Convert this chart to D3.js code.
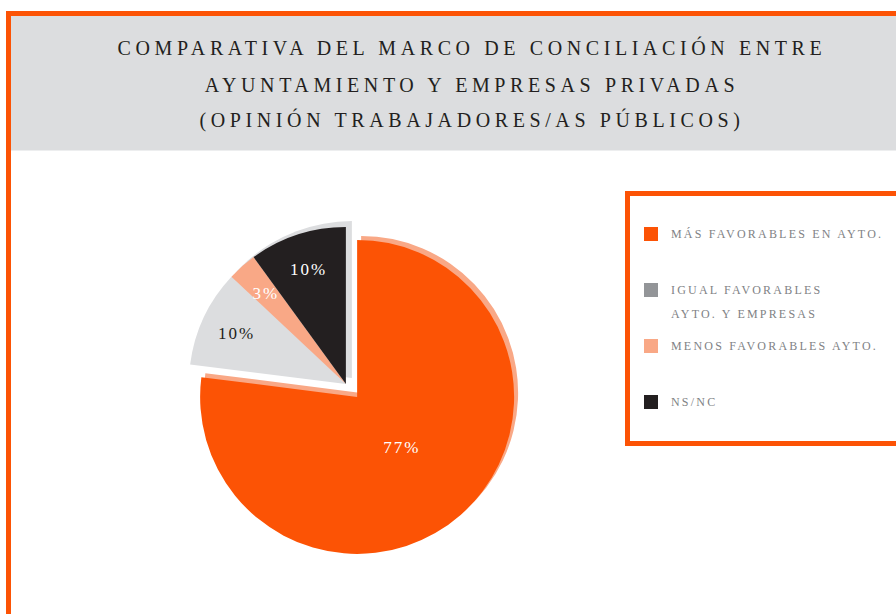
<!DOCTYPE html>
<html>
<head>
<meta charset="utf-8">
<script src="https://cdn.jsdelivr.net/npm/d3@7"></script>
<style>
  body { margin: 0; background: #fff; }
  svg { display: block; font-family: "Liberation Serif", "DejaVu Serif", serif; }
  .title { font-size: 20px; letter-spacing: 4.6px; fill: #231f20; text-anchor: middle; }
  .legendText { font-size: 12px; letter-spacing: 2.2px; fill: #808285; }
  .pct { font-size: 17px; letter-spacing: 2px; text-anchor: middle; }
</style>
</head>
<body>
<svg width="896" height="614"></svg>
<script>
// data
var categories = ["Más favorables en Ayto.", "Igual favorables Ayto. y empresas", "Menos favorables Ayto.", "NS/NC"];
var values = [77, 10, 3, 10];
var legendLines = [["MÁS FAVORABLES EN AYTO."], ["IGUAL FAVORABLES", "AYTO. Y EMPRESAS"], ["MENOS FAVORABLES AYTO."], ["NS/NC"]];
var titleLines = ["COMPARATIVA DEL MARCO DE CONCILIACIÓN ENTRE", "AYUNTAMIENTO Y EMPRESAS PRIVADAS", "(OPINIÓN TRABAJADORES/AS PÚBLICOS)"];

var orange = "#fc5305", salmon = "#f9a886", lightGrey = "#dcdddf", darkGrey = "#939598", black = "#231f20";
var sliceColor = [orange, lightGrey, salmon, black];
var swatchColor = [orange, darkGrey, salmon, black];
var labelColor = ["#fff", black, "#fff", "#fff"];

var svg = d3.select("svg"),
    width = +svg.attr("width"),
    height = +svg.attr("height");

// outer frame + title banner
svg.append("rect")
    .attr("x", 8.5).attr("y", 13.5)
    .attr("width", width + 20).attr("height", height + 20)
    .attr("fill", "#fff")
    .attr("stroke", orange).attr("stroke-width", 5);

svg.append("rect")
    .attr("x", 11).attr("y", 16)
    .attr("width", width).attr("height", 134.5)
    .attr("fill", lightGrey);

svg.selectAll(".title")
    .data(titleLines)
    .enter().append("text")
    .attr("class", "title")
    .attr("x", 472)
    .attr("y", function (d, i) { return [55, 92, 127][i]; })
    .text(function (d) { return d; });

// pie
var radius = 157,
    cx = 351.5, cy = 390.5,
    explode = 8.5;

var pie = d3.pie().sort(null).value(function (d) { return d; });
var arc = d3.arc().innerRadius(0).outerRadius(radius);
var arcs = pie(values);

function push(a, dist) {
    var m = (a.startAngle + a.endAngle) / 2;
    return [Math.sin(m) * dist, -Math.cos(m) * dist];
}

// the big slice is pulled one way, the three small ones together the other way
var rest = {startAngle: arcs[1].startAngle, endAngle: arcs[arcs.length - 1].endAngle};
var bigOff = push(arcs[0], explode),
    restOff = push(rest, explode);

var bigG = svg.append("g")
    .attr("transform", "translate(" + (cx + bigOff[0]) + "," + (cy + bigOff[1]) + ")");
bigG.append("path")
    .attr("d", arc(arcs[0]))
    .attr("transform", "translate(4,-4)")
    .attr("fill", salmon);

var restG = svg.append("g")
    .attr("transform", "translate(" + (cx + restOff[0]) + "," + (cy + restOff[1]) + ")");
restG.append("path")
    .attr("d", arc(rest))
    .attr("transform", "translate(6,-6)")
    .attr("fill", lightGrey);

arcs.forEach(function (d, i) {
    var g = i === 0 ? bigG : restG;
    g.append("path")
        .attr("d", arc(d))
        .attr("fill", sliceColor[i]);
});

arcs.forEach(function (d, i) {
    var g = i === 0 ? bigG : restG;
    var m = (d.startAngle + d.endAngle) / 2,
        r = radius * (d.value > 50 ? 0.43 : 0.77);
    g.append("text")
        .attr("class", "pct")
        .attr("x", Math.sin(m) * r)
        .attr("y", -Math.cos(m) * r)
        .attr("dy", "0.35em")
        .attr("fill", labelColor[i])
        .text(d.value + "%");
});

// legend
svg.append("rect")
    .attr("x", 627.5).attr("y", 193.5)
    .attr("width", 300).attr("height", 250)
    .attr("fill", "#fff")
    .attr("stroke", orange).attr("stroke-width", 5);

var rowY = d3.scalePoint().domain(categories).range([238, 406]);

var item = svg.selectAll(".legendItem")
    .data(categories)
    .enter().append("g")
    .attr("class", "legendItem")
    .attr("transform", function (d) { return "translate(0," + rowY(d) + ")"; });

item.append("rect")
    .attr("x", 644).attr("y", -11)
    .attr("width", 14).attr("height", 14)
    .attr("fill", function (d, i) { return swatchColor[i]; });

item.append("text")
    .attr("class", "legendText")
    .attr("x", 671)
    .selectAll("tspan")
    .data(function (d, i) { return legendLines[i]; })
    .enter().append("tspan")
    .attr("x", 671)
    .attr("y", function (d, j) { return j * 24; })
    .text(function (d) { return d; });
</script>
</body>
</html>
